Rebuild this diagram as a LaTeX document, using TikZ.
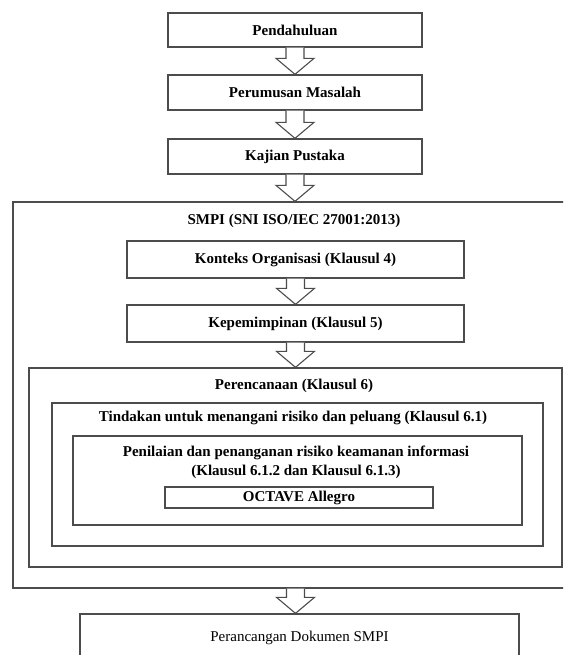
\documentclass[tikz,border=0pt]{standalone}
\usepackage{fontspec}
\setmainfont{Liberation Serif}
\usetikzlibrary{calc}

\newcommand{\boxfont}{\fontsize{15}{19}\selectfont}

\tikzset{
	stage/.style = {draw=black!70, line width=1.3pt, fill=white, inner sep=0pt, font=\boxfont\bfseries},
	frame/.style = {draw=black!70, line width=1.3pt, fill=white, inner sep=0pt},
	title/.style = {inner sep=1pt, align=center, font=\boxfont\bfseries},
	arrowbody/.style = {draw=black!70, line width=1.1pt, fill=white, line join=miter}
}

% hollow block arrow from the bottom of #1 to the top of #2
\newcommand{\flowarrow}[2]{%
	\coordinate (tip) at (#1.south |- #2.north);
	\draw[arrowbody] ($(#1.south)+(-9,0)$) -- ($(tip)+(-9,-16)$) -- ($(tip)+(-19,-16)$) -- (tip)
		-- ($(tip)+(19,-16)$) -- ($(tip)+(9,-16)$) -- ($(#1.south)+(9,0)$);
}

\begin{document}
\begin{tikzpicture}[x=1pt, y=-1pt]
	\useasboundingbox (0,0) rectangle (563,655);
	\clip (0,0) rectangle (563,655);

	% frames
	\node[frame, minimum width=565pt, minimum height=386pt] (smpi) at (295.5,395) {};
	\node[title] (smpititle) at (294,221) {SMPI (SNI ISO/IEC 27001:2013)};
	\node[frame, minimum width=533pt, minimum height=199pt] (renc) at (295.5,467.5) {};
	\node[title] (renctitle) at (294,386) {Perencanaan (Klausul 6)};
	\node[frame, minimum width=491pt, minimum height=143pt] (tind) at (297.5,474.5) {};
	\node[title] (tindtitle) at (293,418) {Tindakan untuk menangani risiko dan peluang (Klausul 6.1)};
	\node[frame, minimum width=449pt, minimum height=89pt] (nilai) at (297.5,480.5) {};
	\node[title] (nilaititle) at (296,462.5) {Penilaian dan penanganan risiko keamanan informasi\\(Klausul 6.1.2 dan Klausul 6.1.3)};

	% stages
	\node[stage, minimum width=254pt, minimum height=34pt] (pend) at (295,30) {Pendahuluan};
	\node[stage, minimum width=254pt, minimum height=35pt] (perum) at (295,92.5) {Perumusan Masalah};
	\node[stage, minimum width=254pt, minimum height=35pt] (kajian) at (295,156.5) {Kajian Pustaka};
	\node[stage, minimum width=337pt, minimum height=37pt] (konteks) at (295.5,259.5) {Konteks Organisasi (Klausul 4)};
	\node[stage, minimum width=337pt, minimum height=37pt] (kepem) at (295.5,323.5) {Kepemimpinan (Klausul 5)};
	\node[stage, minimum width=268pt, minimum height=21pt] (octave) at (299,497.5) {OCTAVE Allegro};
	\node[stage, font=\boxfont, minimum width=439pt, minimum height=48pt] (doc) at (299.5,638) {Perancangan Dokumen SMPI};

	% arrows
	\flowarrow{pend}{perum}
	\flowarrow{perum}{kajian}
	\flowarrow{kajian}{smpi}
	\flowarrow{konteks}{kepem}
	\flowarrow{kepem}{renc}
	\flowarrow{smpi}{doc}
\end{tikzpicture}
\end{document}
